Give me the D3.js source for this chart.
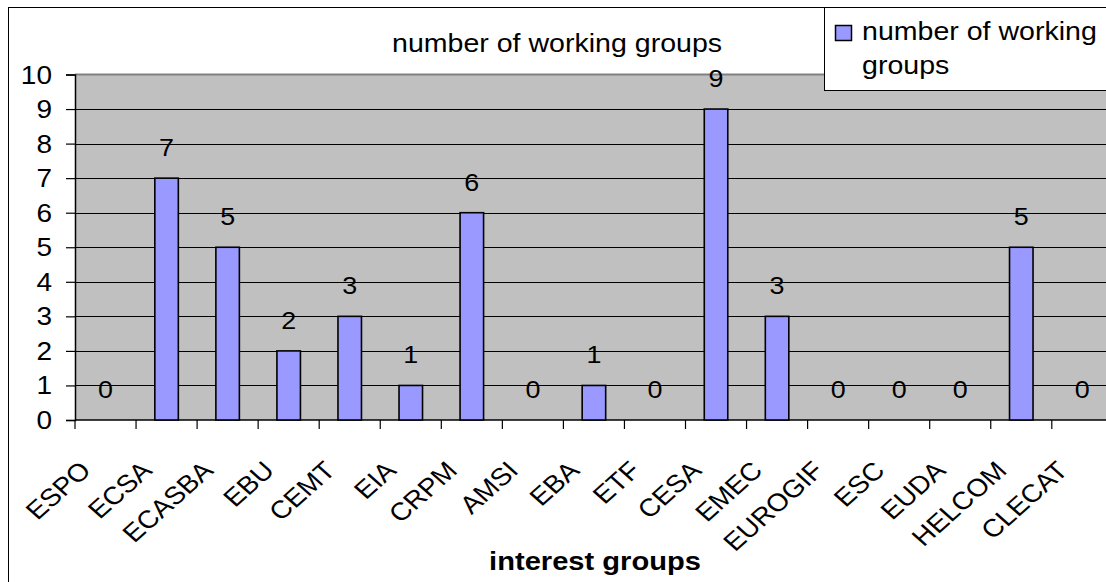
<!DOCTYPE html>
<html>
<head>
<meta charset="utf-8">
<script src="https://cdn.jsdelivr.net/npm/d3@7"></script>
<style>
  html, body { margin: 0; padding: 0; background: #ffffff; }
  svg { display: block; }
  text { font-family: "Liberation Sans", Arial, sans-serif; fill: #000; }
</style>
</head>
<body>
<svg id="chart" width="1106" height="582"></svg>
<script>
const categories = ["ESPO","ECSA","ECASBA","EBU","CEMT","EIA","CRPM","AMSI","EBA","ETF","CESA","EMEC","EUROGIF","ESC","EUDA","HELCOM","CLECAT"];
const workingGroups = [0,7,5,2,3,1,6,0,1,0,9,3,0,0,0,5,0];
const yTicks = [0,1,2,3,4,5,6,7,8,9,10];
const chartTitle = "number of working groups";
const xAxisTitle = "interest groups";
const legendLines = ["number of working", "groups"];

const svg = d3.select("#chart");
const SX = 1.12; // horizontal text stretch seen in the reference

const plot = { left: 75, top: 74.5, bottom: 420, step: 61.05 };
plot.right = plot.left + plot.step * categories.length;

const x = d3.scaleBand().domain(categories).range([plot.left, plot.right]).padding(0);
const y = d3.scaleLinear().domain([0, 10]).range([plot.bottom, plot.top]);

function stext(g, px, py, str, opts) {
  opts = opts || {};
  let tr = `translate(${px},${py}) scale(${SX},1)`;
  if (opts.rotate) tr += ` rotate(${opts.rotate})`;
  return g.append("text")
    .attr("transform", tr)
    .attr("text-anchor", opts.anchor || "start")
    .attr("font-size", opts.size || 25)
    .attr("font-weight", opts.weight || "normal")
    .text(str);
}

// outer chart border (extends beyond the cropped view)
svg.append("rect").attr("x", 8.5).attr("y", 7.5).attr("width", 1200).attr("height", 700)
  .attr("fill", "#fff").attr("stroke", "#000").attr("stroke-width", 1);

// plot background
svg.append("rect")
  .attr("x", plot.left).attr("y", plot.top)
  .attr("width", plot.right - plot.left).attr("height", plot.bottom - plot.top)
  .attr("fill", "#c0c0c0");

// grid lines
svg.append("g").selectAll("line").data(yTicks.filter(d => d > 0 && d < 10)).join("line")
  .attr("x1", plot.left).attr("x2", plot.right)
  .attr("y1", d => Math.round(y(d)) + 0.5).attr("y2", d => Math.round(y(d)) + 0.5)
  .attr("stroke", "#000").attr("stroke-width", 1);
// top border grey
svg.append("line").attr("x1", plot.left).attr("x2", plot.right)
  .attr("y1", y(10)).attr("y2", y(10)).attr("stroke", "#808080").attr("stroke-width", 2);

// y axis
const yAxis = d3.axisLeft(y).tickValues(yTicks).tickSize(9).tickFormat("");
const yg = svg.append("g").attr("transform", `translate(${plot.left},0)`).call(yAxis);
yg.select(".domain").attr("stroke", "#000").attr("stroke-width", 1.5);
yg.selectAll(".tick line").attr("stroke", "#000").attr("stroke-width", 1.2);
yTicks.forEach(t => stext(svg, 52, y(t) + 9, String(t), { anchor: "end", size: 25 }));

// x axis ticks at category boundaries
const boundaries = categories.map(c => x(c)).concat([plot.right]);
svg.append("line").attr("x1", plot.left).attr("x2", plot.right)
  .attr("y1", plot.bottom).attr("y2", plot.bottom).attr("stroke", "#000").attr("stroke-width", 1.5);
svg.append("g").selectAll("line").data(boundaries).join("line")
  .attr("x1", d => d).attr("x2", d => d)
  .attr("y1", plot.bottom).attr("y2", plot.bottom + 9)
  .attr("stroke", "#000").attr("stroke-width", 1.2);

// bars
const barW = x.bandwidth() * 0.385;
svg.append("g").selectAll("rect").data(categories).join("rect")
  .attr("x", (d) => x(d) + x.bandwidth() / 2 - barW / 2)
  .attr("y", (d, i) => y(workingGroups[i]))
  .attr("width", barW)
  .attr("height", (d, i) => y(0) - y(workingGroups[i]))
  .attr("fill", "#9999ff").attr("stroke", "#000").attr("stroke-width", 1.6);

// data labels
categories.forEach((c, i) => {
  stext(svg, x(c) + x.bandwidth() / 2, y(workingGroups[i]) - 22, String(workingGroups[i]), { anchor: "middle", size: 24 });
});

// x category labels rotated
categories.forEach(c => {
  stext(svg, x(c) + x.bandwidth() / 2 - 13, 472, c, { anchor: "end", size: 25, rotate: -45 });
});

// titles
stext(svg, 392, 52, chartTitle, { anchor: "start", size: 25.5 });
stext(svg, 595, 570, xAxisTitle, { anchor: "middle", size: 26, weight: "bold" });

// legend
svg.append("rect").attr("x", 824.5).attr("y", 7.5).attr("width", 400).attr("height", 83)
  .attr("fill", "#fff").attr("stroke", "#000").attr("stroke-width", 1);
svg.append("rect").attr("x", 835.5).attr("y", 25.5).attr("width", 16).attr("height", 15)
  .attr("fill", "#9999ff").attr("stroke", "#000").attr("stroke-width", 1.5);
stext(svg, 862, 40, legendLines[0], { size: 25.5 });
stext(svg, 862, 74, legendLines[1], { size: 25.5 });
</script>
</body>
</html>
